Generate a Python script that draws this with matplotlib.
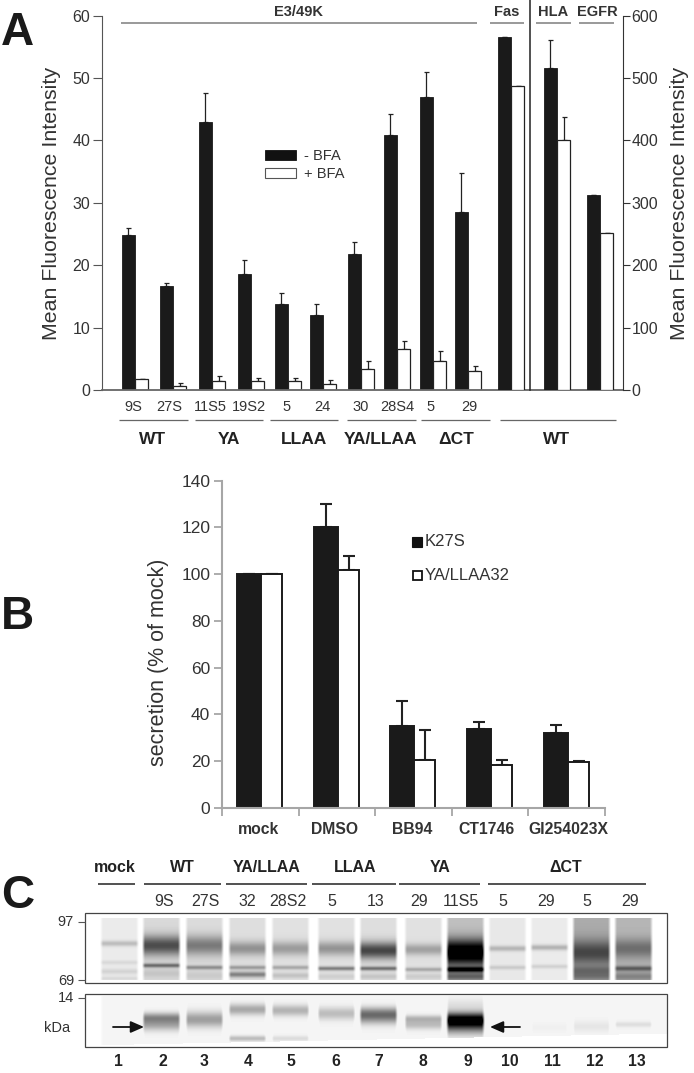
import numpy as np
import matplotlib
matplotlib.use("Agg")
import matplotlib.pyplot as plt
from matplotlib import font_manager as fm
from matplotlib.patches import Rectangle

W, H = 694, 1073
names = {f.name for f in fm.fontManager.ttflist}
SANS = "Liberation Sans"
NARROW = "Liberation Sans Narrow" if "Liberation Sans Narrow" in names else SANS
plt.rcParams["font.family"] = [SANS, "DejaVu Sans"]

# ---- Panel A data
a_clones = ["9S", "27S", "11S5", "19S2", "5", "24", "30", "28S4", "5", "29"]
a_minus = [24.9, 16.7, 43.0, 18.6, 13.8, 12.0, 21.8, 40.8, 46.9, 28.6]
a_plus = [1.7, 0.7, 1.5, 1.4, 1.4, 0.9, 3.4, 6.5, 4.6, 3.0]
a_minus_top = [25.9, 17.1, 47.6, 20.8, 15.6, 13.8, 23.7, 44.2, 51.0, 34.8]
a_plus_top = [1.8, 1.2, 2.2, 2.0, 1.9, 1.6, 4.6, 7.9, 6.2, 3.8]
a_groups = ["WT", "YA", "LLAA", "YA/LLAA", "\u0394CT", "WT"]
a_head = ["E3/49K", "Fas", "HLA", "EGFR"]
ctrl_minus = [566, 516, 313]
ctrl_plus = [487, 400, 252]
ctrl_minus_top = [566, 561, 313]
ctrl_plus_top = [487, 438, 252]

# ---- Panel B data
b_cats = ["mock", "DMSO", "BB94", "CT1746", "GI254023X"]
b_k27s = [100, 120, 35, 33.7, 32]
b_ya = [100, 101.7, 20.5, 18.3, 19.5]
b_k27s_top = [100, 130, 45.7, 36.7, 35.3]
b_ya_top = [100, 107.7, 33.5, 20.5, 20]

# ---- Panel C data: bands per lane as (gel row, darkness, spread)
c_heads = ["mock", "WT", "YA/LLAA", "LLAA", "YA", "\u0394CT"]
c_clones = ["9S", "27S", "32", "28S2", "5", "13", "29", "11S5", "5", "29", "5", "29"]
c_lanes = [str(i) for i in range(1, 14)]
gel1_smear = [.03, .10, .09, .08, .07, .07, .08, .07, .20, .04, .03, .28, .24]
gel1_bands = [
    [(943, .18, 2), (962, .07, 1.5), (971, .09, 2), (978, .07, 1.5)],
    [(945, .55, 7), (965, .42, 1.5), (973, .08, 3)],
    [(945, .38, 7), (967, .30, 1.5), (975, .07, 3)],
    [(948, .30, 5), (967, .26, 1.5), (974, .36, 2)],
    [(948, .27, 5), (967, .22, 1.5), (975, .12, 2)],
    [(948, .30, 5), (968, .38, 1.5), (976, .07, 2)],
    [(950, .60, 6), (968, .42, 1.5), (976, .10, 2)],
    [(949, .25, 4), (969, .22, 1.5), (976, .08, 2)],
    [(952, .95, 9), (969, .70, 1.8), (976, .35, 3)],
    [(948, .20, 2), (967, .12, 1.5)],
    [(947, .22, 2), (966, .10, 1.5)],
    [(952, .40, 9), (970, .20, 3), (976, .20, 3)],
    [(948, .28, 7), (968, .35, 1.8), (976, .20, 3)],
]
gel2_bands = [
    [],
    [(1017, .36, 3.5), (1024, .30, 4.5)],
    [(1019, .34, 5.5)],
    [(1009, .30, 4), (1038, .22, 2)],
    [(1010, .26, 4), (1038, .10, 2)],
    [(1013, .22, 4.5)],
    [(1013, .44, 4.5), (1019, .22, 4.5)],
    [(1018, .22, 2.5), (1024, .22, 3.5)],
    [(1019, .90, 5), (1026, .45, 6), (1005, .08, 5)],
    [],
    [(1027, .02, 3)],
    [(1026, .06, 4)],
    [(1024, .09, 2)],
]

# ---- Layout, in pixels of the figure
fig = plt.figure(figsize=(W / 100, H / 100), dpi=100)


def axes_px(l, t, r, b, **kw):
    return fig.add_axes([l / W, 1 - b / H, (r - l) / W, (b - t) / H], **kw)


ov = axes_px(0, 0, W, H)
ov.set_xlim(0, W)
ov.set_ylim(H, 0)
ov.axis("off")
ov.set_zorder(5)
ov.patch.set_alpha(0)


def hline(x0, x1, y, color="#666666", lw=0.9):
    ov.plot([x0, x1], [y, y], color=color, lw=lw, solid_capstyle="butt")


def txt(x, y, s, size, weight="normal", family=None, ha="center", color="#222222", **kw):
    ov.text(x, y, s, fontsize=size, fontweight=weight, ha=ha, va="center",
            color=color, family=family or SANS, **kw)


# ---- Panel A
A_L, A_R, A_T, A_B = 102, 623, 15.6, 390
a_centers = [135, 173, 212, 251, 288, 323, 361, 397, 433, 468]
ctrl_centers = [511, 557, 600]
BAR_A = 13.3
axa = axes_px(A_L, A_T, A_R, A_B)
axa.set_xlim(A_L, A_R)
axa.set_ylim(0, 60)
axb = axa.twinx()
axb.set_ylim(0, 600)
for ax, cen, lo, hi, lo_t, hi_t in [
    (axa, a_centers, a_minus, a_plus, a_minus_top, a_plus_top),
    (axb, ctrl_centers, ctrl_minus, ctrl_plus, ctrl_minus_top, ctrl_plus_top),
]:
    cen = np.array(cen, float)
    ax.errorbar(cen - BAR_A / 2, lo, yerr=[np.zeros(len(lo)), np.array(lo_t) - np.array(lo)],
                fmt="none", ecolor="#222222", elinewidth=0.9, capsize=1.8, capthick=0.9, zorder=1)
    ax.errorbar(cen + BAR_A / 2, hi, yerr=[np.zeros(len(hi)), np.array(hi_t) - np.array(hi)],
                fmt="none", ecolor="#222222", elinewidth=0.9, capsize=1.8, capthick=0.9, zorder=1)
    ax.bar(cen - BAR_A / 2, lo, BAR_A, color="#1a1a1a", edgecolor="#1a1a1a", lw=0.6, zorder=2)
    ax.bar(cen + BAR_A / 2, hi, BAR_A, color="white", edgecolor="#222222", lw=0.9, zorder=2)
axa.set_yticks(range(0, 61, 10))
axb.set_yticks(range(0, 601, 100))
axa.set_xticks([])
for s in ["top", "right"]:
    axa.spines[s].set_visible(False)
axb.spines["top"].set_visible(False)
axb.spines["left"].set_visible(False)
axa.spines["left"].set_color("#555555")
axa.spines["bottom"].set_color("#666666")
axa.spines["bottom"].set_linewidth(1.3)
axb.spines["bottom"].set_visible(False)
axb.spines["right"].set_color("#333333")
axb.spines["right"].set_linewidth(0.8)
axa.tick_params(axis="y", length=6.5, width=0.8, color="#555555", labelsize=11.5,
                labelcolor="#333333", pad=2)
axb.tick_params(axis="y", length=5, width=0.8, color="#333333", labelsize=11.5,
                labelcolor="#333333", pad=1)
for lab in axa.get_yticklabels() + axb.get_yticklabels():
    lab.set_family(NARROW)

txt(52, 203, "Mean Fluorescence Intensity", 15.4, rotation=90, color="#333333")
txt(680, 203, "Mean Fluorescence Intensity", 15.4, rotation=90, color="#333333")
ov.plot([530, 530], [0, A_B], color="#222222", lw=1.1)
for s, x, x0, x1 in zip(a_head, [299, 507, 553, 597], [121, 490, 536, 579], [477, 524, 571, 614]):
    txt(x, 12, s, 10.5, "bold", NARROW, color="#333333")
    hline(x0, x1, 23, "#999999", 1.4)
for s, x in zip(a_clones, [133, 169, 210, 249, 287, 322, 361, 397, 431, 469]):
    txt(x, 407, s, 10.5, family=NARROW, color="#333333")
for s, x, x0, x1 in zip(a_groups, [153, 229, 304, 381, 456, 557],
                        [119, 195, 270, 347, 421, 500], [188, 263, 338, 416, 490, 616]):
    hline(x0, x1, 420)
    txt(x, 440, s, 12.5, "bold", NARROW, color="#222222")
ov.add_patch(Rectangle((265, 150), 31, 10, fc="#111111", ec="#111111", lw=0.6))
ov.add_patch(Rectangle((265, 168), 31, 10, fc="white", ec="#555555", lw=0.8))
txt(304, 156, "- BFA", 10.5, family=NARROW, ha="left", color="#333333")
txt(304, 174, "+ BFA", 10.5, family=NARROW, ha="left", color="#333333")
txt(1, 33, "A", 33, "bold", ha="left", color="#1a1a1a")
txt(1, 617, "B", 33, "bold", ha="left", color="#1a1a1a")
txt(1, 896, "C", 33, "bold", ha="left", color="#1a1a1a")

# ---- Panel B
B_L, B_R, B_T, B_B = 222, 605, 480.7, 808
b_centers = np.array([261, 338, 414, 491, 568], float)
axc = axes_px(B_L, B_T, B_R, B_B)
axc.set_xlim(B_L, B_R)
axc.set_ylim(0, 140)
for cen, v, t, off, fc, w in [
    (b_centers, b_k27s, b_k27s_top, -12, "#1a1a1a", 23.5),
    (b_centers, b_ya, b_ya_top, 10.5, "white", 21),
]:
    axc.errorbar(cen + off, v, yerr=[np.zeros(5), np.array(t) - np.array(v)], fmt="none",
                 ecolor="#222222", elinewidth=1.5, capsize=4, capthick=1.5, zorder=1)
    axc.bar(cen + off, v, w, color=fc, edgecolor="#1a1a1a", lw=1.4, zorder=2)
axc.set_yticks(range(0, 141, 20))
axc.set_xticks(np.linspace(B_L, B_R, 6))
axc.set_xticklabels([])
for s in ["top", "right"]:
    axc.spines[s].set_visible(False)
for s in ["left", "bottom"]:
    axc.spines[s].set_color("#a6a6a6")
    axc.spines[s].set_linewidth(1.5)
axc.tick_params(axis="both", length=5.5, width=1.3, color="#a6a6a6", labelsize=12.5,
                labelcolor="#333333", pad=3)
for s, x in zip(b_cats, [259, 335, 412, 487, 568]):
    txt(x, 830, s, 11.3, "bold", color="#333333")
txt(159, 662, "secretion (% of mock)", 15.5, rotation=90, color="#333333")
ov.add_patch(Rectangle((412, 537), 10, 10, fc="#111111", ec="#111111", lw=0.8))
ov.add_patch(Rectangle((413, 571), 9, 9, fc="white", ec="#111111", lw=1.3))
txt(425, 542, "K27S", 12, ha="left", color="#333333")
txt(425, 576, "YA/LLAA32", 12, ha="left", color="#333333")

# ---- Panel C: gels
lane_x = np.array([119, 161, 204, 247, 290, 336, 378, 423, 465, 507, 549, 591, 633], float)
LANE_HALF = 18


def gel(l, t, r, b, lane_t, lane_b, bands, smear, base, cut=None, sheet=False):
    ys, xs = np.mgrid[t:b:1.0, l:r:1.0]
    dark = np.zeros(xs.shape)
    for cx, lane, sm in zip(lane_x, bands, smear):
        mask = np.clip((LANE_HALF - np.abs(xs - cx)) / 3.0 + 0.5, 0, 1)
        prof = np.full(xs.shape, base + sm)
        for c, amp, s in lane:
            prof = prof + amp * np.exp(-0.5 * ((ys - c) / s) ** 2)
        dark = np.maximum(dark, mask * prof)
    if sheet:
        dark = np.maximum(dark, base * (xs > 105))
    dark[(ys < lane_t) | (ys > lane_b)] = 0
    if cut is not None:
        edge = cut[0] + (cut[1] - cut[0]) * (xs - l) / (r - l)
        dark[ys > edge] = 0
    ov.imshow(1 - np.clip(dark, 0, 1), extent=(l, r, b, t), cmap="gray", vmin=0, vmax=1,
              aspect="auto", interpolation="bilinear", zorder=0)
    ov.add_patch(Rectangle((l, t), r - l, b - t, fc="none", ec="#444444", lw=0.9, zorder=1))


gel(85, 913, 667, 983, 918, 979, gel1_bands, gel1_smear, 0.05)
gel(85, 994, 667, 1047, 996, 1046, gel2_bands, [0.0] * 13, 0.04, cut=(1045, 1033), sheet=True)
ov.set_xlim(0, W)
ov.set_ylim(H, 0)

for s, x, x0, x1 in zip(c_heads, [115, 182, 267, 355, 440, 566],
                        [98, 144, 226, 312, 399, 488], [135, 221, 307, 396, 480, 646]):
    txt(x, 867, s, 11.5, "bold", NARROW, color="#222222")
    hline(x0, x1, 884, "#222222", 1.1)
for s, x in zip(c_clones, [164, 205, 247, 288, 332, 376, 419, 461, 503, 546, 587, 630]):
    txt(x, 902, s, 11.5, family=NARROW, color="#333333")
for s, x in zip(c_lanes, [118, 163, 204, 248, 291, 336, 379, 423, 468, 510, 552, 595, 637]):
    txt(x, 1062, s, 11.3, "bold", NARROW, color="#222222")
for s, y in zip(["97", "69", "14", "kDa"], [922, 981, 998, 1028]):
    txt(66 if s != "kDa" else 57, y, s, 10.5, family=NARROW, color="#333333")
for y in [922, 980, 998]:
    hline(78, 85, y, "#555555", 0.8)
for x0, x1 in [(113, 144), (520, 490)]:
    ov.annotate("", xy=(x1, 1027), xytext=(x0, 1027),
                arrowprops=dict(arrowstyle="-|>,head_length=0.8,head_width=0.35",
                                color="#111111", lw=1.3, shrinkA=0, shrinkB=0))

fig.savefig("out.png", dpi=100)
